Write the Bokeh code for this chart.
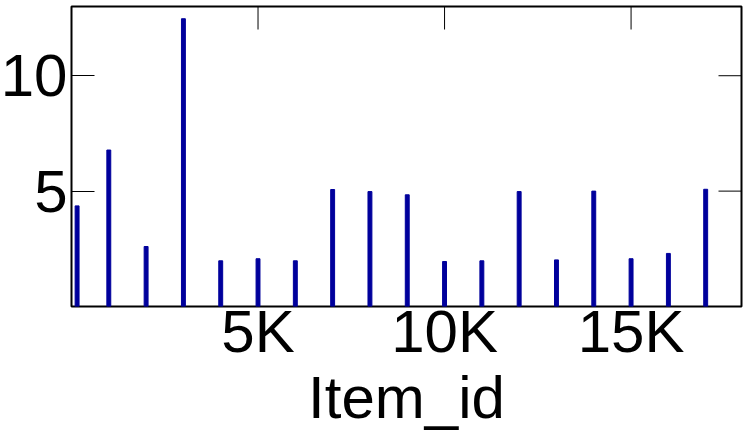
import math
from bokeh.plotting import figure
from bokeh.models import Range1d, LinearAxis, FixedTicker, CustomJSTickFormatter
from bokeh.embed import file_html
from bokeh.resources import INLINE

item_id = [150, 1000, 2000, 3000, 4000, 5000, 6000, 7000, 8000, 9000,
           10000, 11000, 12000, 13000, 14000, 15000, 16000, 17000]
counts = [4.36, 6.78, 2.60, 12.47, 1.98, 2.07, 1.98, 5.07, 4.98, 4.84,
          1.95, 1.98, 4.98, 2.02, 5.00, 2.07, 2.30, 5.08]
x_ticks = [5000, 10000, 15000]
y_ticks = [5, 10]
x_label = "Item_id"
X_MAX = 17960
Y_MAX = 13

FONT = "Liberation Sans"
FS = "60px"

p = figure(frame_width=670, frame_height=300,
           min_border_left=79, min_border_top=14, min_border_right=5, min_border_bottom=118,
           x_range=Range1d(0, X_MAX), y_range=Range1d(0, Y_MAX),
           output_backend="svg", toolbar_location=None,
           x_axis_location=None, y_axis_location=None)
p.margin = (-8, 0, 0, -8)
p.grid.visible = False
p.background_fill_color = "white"
p.border_fill_color = "white"
p.outline_line_color = "black"
p.outline_line_width = 2

p.vbar(x=item_id, top=counts, bottom=0, width=105, color="#00009c")

# mirrored inward ticks on top and right edges
p.ray(x=x_ticks, y=[Y_MAX] * len(x_ticks), length=23, length_units="screen",
      angle=-math.pi / 2, line_color="black", line_width=1)
p.ray(x=[X_MAX] * len(y_ticks), y=y_ticks, length=23, length_units="screen",
      angle=math.pi, line_color="black", line_width=1)

fmt = CustomJSTickFormatter(code="return (tick/1000) + 'K';")

def style(ax):
    ax.axis_line_color = None
    ax.major_tick_out = 0
    ax.major_tick_in = 23
    ax.major_tick_line_color = "black"
    ax.major_tick_line_width = 1
    ax.minor_tick_line_color = None
    ax.major_label_text_font = FONT
    ax.major_label_text_font_size = FS
    ax.major_label_text_color = "black"
    ax.axis_label_text_font = FONT
    ax.axis_label_text_font_size = FS
    ax.axis_label_text_font_style = "normal"
    ax.axis_label_text_color = "black"

xb = LinearAxis(ticker=FixedTicker(ticks=x_ticks), formatter=fmt, axis_label=x_label)
style(xb)
xb.major_tick_in = 0
xb.major_label_standoff = -9
xb.axis_label_standoff = -4
p.add_layout(xb, "below")

yl = LinearAxis(ticker=FixedTicker(ticks=y_ticks))
style(yl)
yl.major_label_standoff = 4
p.add_layout(yl, "left")

open("out.html", "w").write(file_html(p, INLINE))
